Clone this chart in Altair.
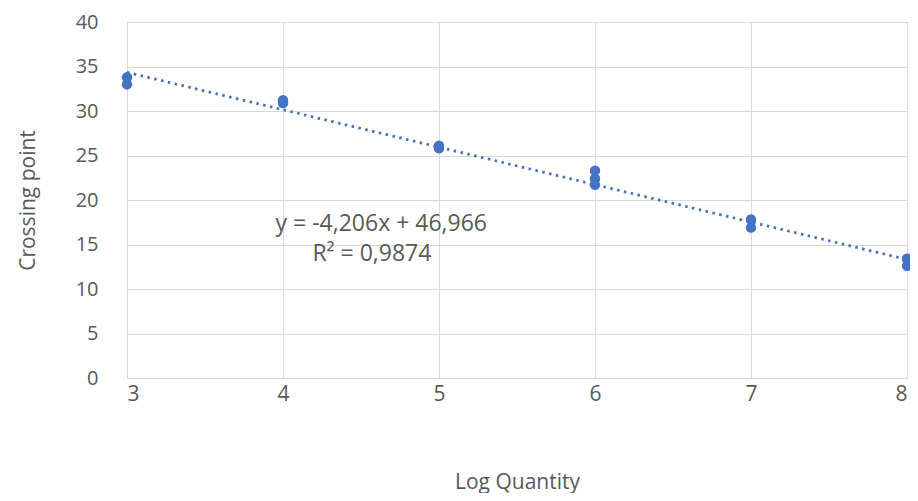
import altair as alt
import pandas as pd

log_qty = [3, 3, 4, 4, 5, 5, 6, 6, 6, 7, 7, 8, 8]
crossing = [33.8, 33.0, 31.2, 30.9, 26.1, 25.8, 23.3, 22.4, 21.7, 17.8, 16.9, 13.4, 12.6]

slope = -4.206
intercept = 46.966
trend_x = [3, 8]
trend_y = [slope * v + intercept for v in trend_x]

labels = ["y = -4,206x + 46,966", "R² = 0,9874"]
label_x = [4.63, 4.57]
label_y = [17.3, 13.9]

pts = pd.DataFrame({"x": log_qty, "y": crossing})
trend = pd.DataFrame({"x": trend_x, "y": trend_y})
ann = pd.DataFrame({"x": label_x, "y": label_y, "t": labels})

FONT = "Open Sans"
GREY = "#595959"

xs = alt.Scale(domain=[3, 8], nice=False, zero=False)
ys = alt.Scale(domain=[0, 40], nice=False)

xax = alt.Axis(values=[3, 4, 5, 6, 7, 8], format="d", title="Log Quantity", grid=True,
               gridColor="#d9d9d9", domain=False, ticks=False, labelFontSize=21,
               labelColor=GREY, labelFont=FONT, labelPadding=5,
               titleFontSize=21, titleColor=GREY, titleFont=FONT, titleFontWeight="normal",
               titlePadding=67)
yax = alt.Axis(values=list(range(0, 41, 5)), format="d", title="Crossing point", grid=True,
               gridColor="#d9d9d9", domain=False, ticks=False, labelFontSize=20,
               labelColor=GREY, labelFont=FONT, labelPadding=29,
               titleFontSize=21, titleColor=GREY, titleFont=FONT, titleFontWeight="normal",
               titlePadding=37)

line = alt.Chart(trend).mark_line(color="#4a72b0", strokeDash=[2.5, 4.5], strokeWidth=2.8).encode(
    x=alt.X("x:Q", scale=xs, axis=xax),
    y=alt.Y("y:Q", scale=ys, axis=yax),
)

points = alt.Chart(pts).mark_circle(color="#4472C4", size=110, opacity=1).encode(
    x=alt.X("x:Q", scale=xs),
    y=alt.Y("y:Q", scale=ys),
)

text = alt.Chart(ann).mark_text(fontSize=23, color=GREY, font=FONT, align="center").encode(
    x=alt.X("x:Q", scale=xs),
    y=alt.Y("y:Q", scale=ys),
    text="t:N",
)

chart = (line + points + text).properties(
    width=780, height=356,
    autosize=alt.AutoSizeParams(type="none"),
    padding={"left": 119, "top": 14, "right": 3, "bottom": 115},
).configure_view(stroke=None).configure(background="white")

chart.save("out.html", embed_options={"renderer": "svg", "actions": False})
